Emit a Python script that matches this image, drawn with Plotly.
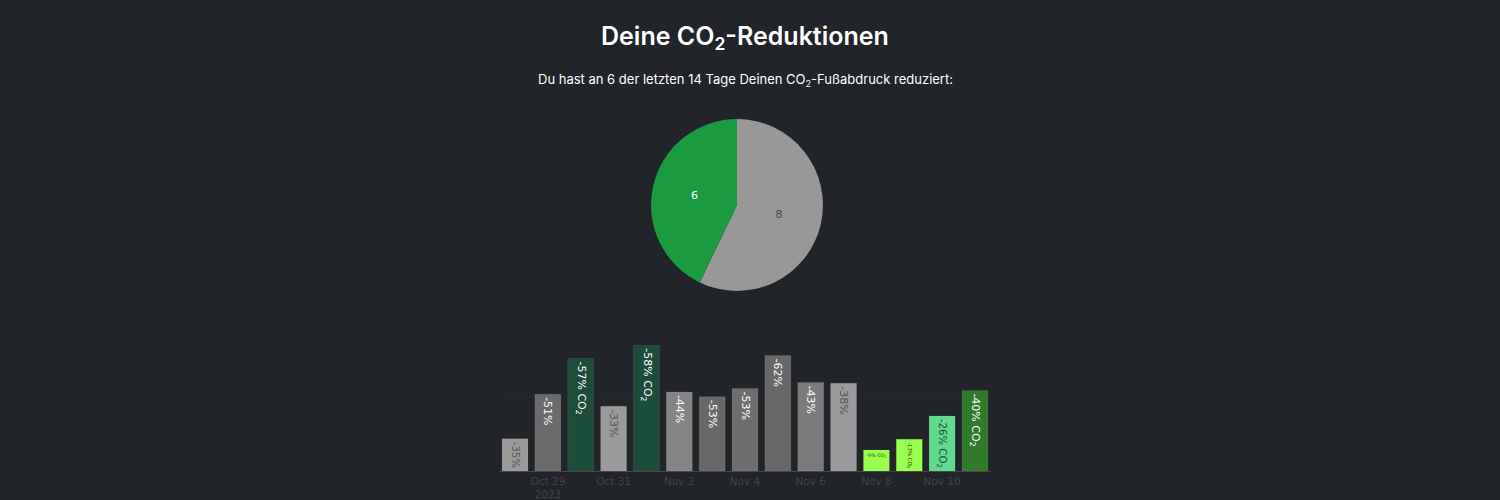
import plotly.graph_objects as go

# ---- data ----
dates = ["2023-10-28", "2023-10-29", "2023-10-30", "2023-10-31", "2023-11-01",
         "2023-11-02", "2023-11-03", "2023-11-04", "2023-11-05", "2023-11-06",
         "2023-11-07", "2023-11-08", "2023-11-09", "2023-11-10", "2023-11-11"]
co2_values = [0.86, 2.05, 3.0, 1.73, 3.35, 2.11, 1.98, 2.2, 3.08, 2.36, 2.34, 0.56, 0.85, 1.47, 2.15]
reduction_pct = [-35, -51, -57, -33, -58, -44, -53, -53, -62, -43, -38, -9, -13, -26, -40]
reduced_flag = [0, 0, 1, 0, 1, 0, 0, 0, 0, 0, 0, 1, 1, 1, 1]
bar_colors = ["#9a9a9a", "#6b6b6b", "#1c4d3b", "#9a9a9a", "#1c4d3b", "#848484", "#686868",
              "#6e6e6e", "#686868", "#7b7b7b", "#9a9a9a", "#99ff4f", "#99ff4f", "#62da8c", "#2f7a2b"]
text_colors = ["#555555", "#ffffff", "#ffffff", "#555555", "#ffffff", "#ffffff", "#ffffff",
               "#ffffff", "#ffffff", "#ffffff", "#555555", "#1f3a12", "#1f3a12", "#24503a", "#ffffff"]

pie_labels = ["nicht reduziert", "reduziert"]
pie_values = [8, 6]
pie_colors = ["#989898", "#1c9a40"]
pie_text_colors = ["#4a4a4a", "#ffffff"]

title_text = "Deine CO<sub>2</sub>-Reduktionen"
subtitle_text = "Du hast an 6 der letzten 14 Tage Deinen CO<sub>2</sub>-Fußabdruck reduziert:"

bg = "#212428"
W, H = 1500, 500
dy = 2.5  # vertical pixel correction


def py(px):
    return 1 - (px + dy) / H


bar_texts = [f"{p}% CO<sub>2</sub>" if f else f"{p}%" for p, f in zip(reduction_pct, reduced_flag)]

fig = go.Figure()

fig.add_trace(go.Pie(
    labels=pie_labels, values=pie_values, sort=False, direction="clockwise", rotation=0,
    marker=dict(colors=pie_colors, line=dict(width=0)),
    textinfo="value", textposition="inside",
    textfont=dict(family="DejaVu Sans", size=11, color=pie_text_colors),
    domain=dict(x=[(737 - 87) / W, (737 + 87) / W], y=[py(292), py(118)]),
    showlegend=False, hoverinfo="label+value",
))

fig.add_trace(go.Bar(
    x=dates, y=co2_values, text=bar_texts,
    marker=dict(color=bar_colors, line=dict(width=1, color="rgba(255,255,255,0.08)")),
    textposition="inside", insidetextanchor="end",
    textfont=dict(family="DejaVu Sans", size=11, color=text_colors),
    showlegend=False,
))

fig.update_layout(
    width=W, height=H,
    paper_bgcolor=bg, plot_bgcolor=bg,
    margin=dict(l=0, r=0, t=0, b=0),
    bargap=0.21,
    xaxis=dict(
        domain=[498.6 / W, 991.4 / W],
        type="date", range=["2023-10-27 12:00", "2023-11-11 12:00"],
        tick0="2023-10-29", dtick=2 * 86400000,
        showgrid=False, showline=True, linecolor="#45474b", linewidth=1,
        ticks="", tickfont=dict(family="DejaVu Sans", size=10.5, color="#404348"),
    ),
    yaxis=dict(
        domain=[py(474.3), py(325)],
        range=[0, 3.93], dtick=2, showticklabels=False,
        showgrid=True, gridcolor="#272a2e", zeroline=False,
    ),
    annotations=[
        dict(text=title_text, x=744.5 / W, y=py(35), xref="paper", yref="paper",
             showarrow=False, xanchor="center", yanchor="middle",
             font=dict(family="Inter", size=25, color="#ffffff", weight=600)),
        dict(text=subtitle_text, x=745 / W, y=py(78), xref="paper", yref="paper",
             showarrow=False, xanchor="center", yanchor="middle",
             font=dict(family="Inter", size=13, color="#ffffff")),
    ],
)

fig.write_html(
    "out.html",
    config={"displayModeBar": False},
    post_script="document.body.style.margin='0';document.body.style.background='#212428';",
)
